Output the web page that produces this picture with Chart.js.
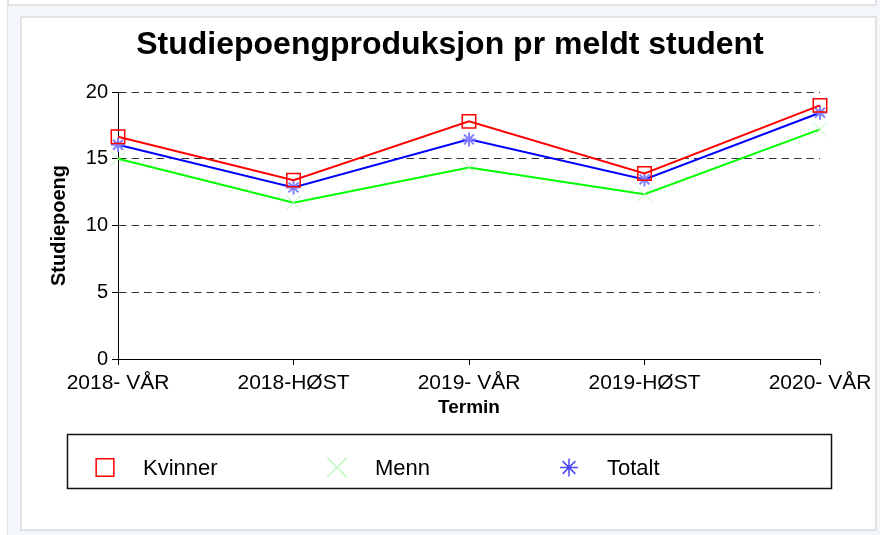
<!DOCTYPE html>
<html>
<head>
<meta charset="utf-8">
<script src="https://cdn.jsdelivr.net/npm/chart.js@4/dist/chart.umd.min.js"></script>
<style>
    html, body { margin: 0; padding: 0; width: 880px; height: 535px; overflow: hidden; background: #fff; }
    .back { position: absolute; left: 7px; top: 0; width: 873px; height: 535px; background: #f3f6fb; border-left: 1px solid #e4e4e4; }
    .strip { position: absolute; left: 7px; top: -20px; width: 866px; height: 22px; background: #fff; border: 2px solid #e2e2e2; }
    .panel { position: absolute; left: 20px; top: 16px; width: 857px; height: 515px; box-sizing: border-box; background: #fff; border: 2px solid #e2e2e2; }
    .chart { position: absolute; left: 22px; top: 18px; width: 856px; height: 511px; }
</style>
</head>
<body>
<div class="back"></div>
<div class="strip"></div>
<div class="panel"></div>
<div class="chart"><canvas id="studiepoeng" width="856" height="511"></canvas></div>
<script>
// Data
const terminer = ["2018- VÅR", "2018-HØST", "2019- VÅR", "2019-HØST", "2020- VÅR"];
const kvinner = [16.65, 13.4, 17.8, 13.9, 19.0];
const menn = [15.0, 11.7, 14.35, 12.35, 17.2];
const totalt = [16.05, 12.85, 16.45, 13.45, 18.45];
const yTicks = [0, 5, 10, 15, 20];

const FONT = '"Liberation Sans", Arial, sans-serif';

// Legend box (drawn inside the canvas, under the axes)
const legendBox = {
    id: "legendBox",
    afterDraw: (chart) => {
        const ctx = chart.ctx;
        ctx.save();
        ctx.strokeStyle = "#111";
        ctx.lineWidth = 1.5;
        ctx.strokeRect(45.5, 416.5, 764, 54);
        chart.data.datasets.forEach((ds, i) => {
            let x = 83 + i * 232;
            let y = 449.5;
            ctx.fillStyle = "rgba(0,0,0,0)";
            ctx.strokeStyle = ds.legendColor;
            Chart.helpers.drawPoint(ctx, {
                pointStyle: ds.pointStyle,
                radius: ds.legendRadius,
                rotation: 0,
                borderWidth: ds.legendWidth
            }, x, y);
            ctx.fillStyle = "#000";
            ctx.font = "22px " + FONT;
            ctx.textBaseline = "middle";
            ctx.textAlign = "left";
            ctx.fillText(ds.label, x + 38, y + 1);
        });
        ctx.restore();
    }
};

// Chart
new Chart(document.getElementById("studiepoeng"), {
    type: "line",
    data: {
        labels: terminer,
        datasets: [
            {
                label: "Kvinner",
                data: kvinner,
                borderColor: "#ff0000",
                borderWidth: 2,
                pointStyle: "rect",
                pointRadius: 9.5,
                pointBorderColor: "#ff0000",
                pointBackgroundColor: "rgba(0,0,0,0)",
                pointBorderWidth: 1.5,
                legendColor: "#ff0000",
                legendRadius: 12.5,
                legendWidth: 1.5
            },
            {
                label: "Menn",
                data: menn,
                borderColor: "#00ff00",
                borderWidth: 2,
                pointStyle: "crossRot",
                pointRadius: 10.5,
                pointBorderColor: "#b4f5b4",
                pointBorderWidth: 1,
                legendColor: "#c4f7c4",
                legendRadius: 14,
                legendWidth: 1
            },
            {
                label: "Totalt",
                data: totalt,
                borderColor: "#0000ff",
                borderWidth: 2,
                pointStyle: "star",
                pointRadius: 7,
                pointBorderColor: "#8080ff",
                pointBorderWidth: 2,
                legendColor: "#4a4aff",
                legendRadius: 9,
                legendWidth: 1.5
            }
        ]
    },
    options: {
        responsive: false,
        animation: false,
        events: [],
        layout: {
            padding: {left: 0, right: 0, top: 0, bottom: 100}
        },
        plugins: {
            legend: {display: false},
            tooltip: {enabled: false},
            title: {
                display: true,
                text: "Studiepoengproduksjon pr meldt student",
                color: "#000",
                font: {family: FONT, size: 32, weight: "bold"},
                padding: {top: 8, bottom: 27.6}
            }
        },
        scales: {
            x: {
                type: "category",
                offset: false,
                grid: {drawOnChartArea: false, drawTicks: true, tickLength: 6, tickColor: "#000", tickWidth: 1},
                border: {display: true, color: "#000", width: 1},
                ticks: {
                    autoSkip: false,
                    maxRotation: 0,
                    padding: 6,
                    color: "#000",
                    font: {family: FONT, size: 21}
                },
                title: {
                    display: true,
                    text: "Termin",
                    color: "#000",
                    font: {family: FONT, size: 19, weight: "bold"},
                    padding: {top: 0, bottom: 10}
                },
                afterFit: (s) => { s.height = 70; }
            },
            y: {
                min: 0,
                max: 20,
                afterBuildTicks: (s) => { s.ticks = yTicks.map(v => ({value: v})); },
                grid: {color: "#333", lineWidth: 1, tickLength: 6, tickColor: "#000", tickBorderDash: [], tickWidth: 1},
                border: {display: true, color: "#000", width: 1, dash: [7.5, 5]},
                ticks: {
                    padding: 4,
                    color: "#000",
                    font: {family: FONT, size: 20}
                },
                title: {
                    display: true,
                    text: "Studiepoeng",
                    color: "#000",
                    font: {family: FONT, size: 20, weight: "bold"},
                    padding: {top: 25, bottom: 0}
                },
                afterFit: (s) => { s.width = 96; }
            },
            spacer: {
                type: "linear",
                position: "right",
                display: true,
                grid: {display: false},
                border: {display: false},
                ticks: {display: false},
                afterFit: (s) => { s.width = 58; }
            }
        }
    },
    plugins: [legendBox]
});
</script>
</body>
</html>
